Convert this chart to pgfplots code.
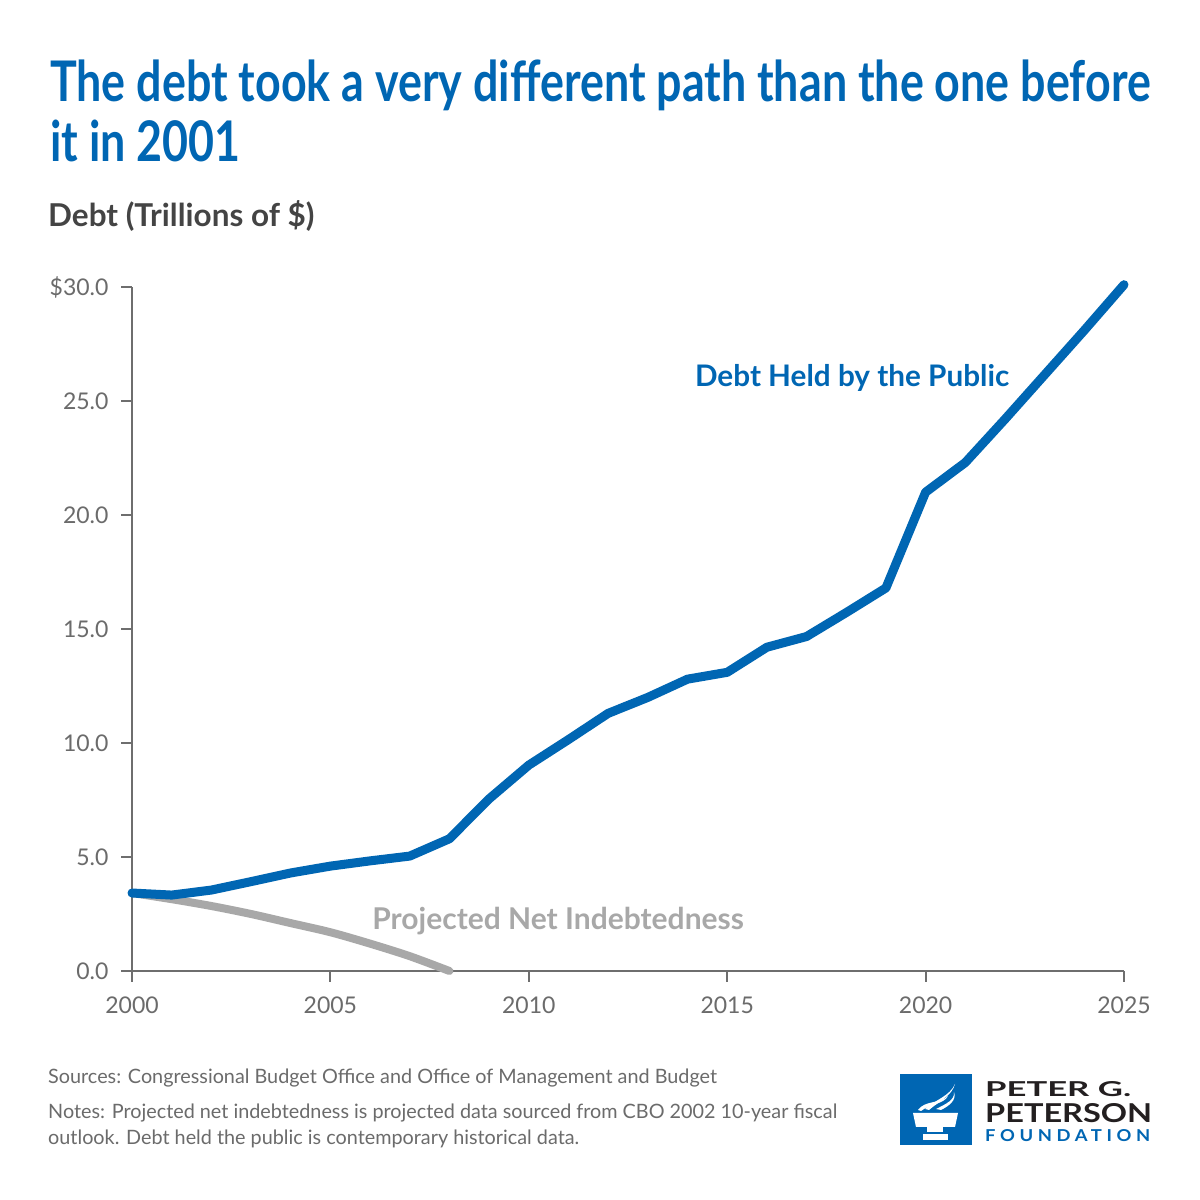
\documentclass[border=0pt]{standalone}
\usepackage{fontspec}
\usepackage{pgfplots}
\pgfplotsset{compat=1.18}
\setmainfont{Lato}
\newfontfamily\titlefont{Lato}[FakeStretch=0.80]
\newfontfamily\spacedfont{Lato}[LetterSpace=25]
\definecolor{dblue}{HTML}{0066B3}
\definecolor{lgray}{HTML}{A8A8A8}
\definecolor{axisgray}{HTML}{6E6E6E}
\definecolor{labelgray}{HTML}{6B6B6B}
\definecolor{subgray}{HTML}{444444}
\definecolor{logoblack}{HTML}{231F20}
\begin{document}
\begin{tikzpicture}[x=1pt,y=1pt]
\fill[white] (0,0) rectangle (1200,1200);
\useasboundingbox (0,0) rectangle (1200,1200);
% title
\node[anchor=base west,inner sep=0pt,text=dblue] at (50,1098) {\titlefont\bfseries\fontsize{56}{60}\selectfont The debt took a very different path than the one before};
\node[anchor=base west,inner sep=0pt,text=dblue] at (50,1038) {\titlefont\bfseries\fontsize{56}{60}\selectfont it in 2001};
\node[anchor=base west,inner sep=0pt,text=subgray] at (48,973) {\bfseries\fontsize{31.5}{34}\selectfont Debt (Trillions of \$)};
\begin{axis}[
 at={(132pt,229pt)}, anchor=south west,
 scale only axis, width=992pt, height=684pt,
 xmin=2000,xmax=2025,ymin=0,ymax=30,
 axis x line*=bottom, axis y line*=left,
 axis line style={draw=axisgray,line width=2pt,-},
 xtick={2000,2005,2010,2015,2020,2025},
 xticklabels={2000,2005,2010,2015,2020,2025},
 ytick={0,5,10,15,20,25,30},
 yticklabels={0.0,5.0,10.0,15.0,20.0,25.0,\$30.0},
 tick align=outside, major tick length=11pt,
 tick style={draw=axisgray,line width=2pt},
 ticklabel style={font=\fontsize{23}{27}\selectfont, text=labelgray},
 xticklabel style={yshift=-11pt},
 yticklabel style={xshift=-9pt},
 clip=false,
]
\addplot[color=lgray, line width=8pt, line cap=round, line join=round, smooth] coordinates {
(2000,3.42) (2001,3.15) (2002,2.85) (2003,2.5) (2004,2.1) (2005,1.7) (2006,1.2) (2007,0.65) (2008,0.0)
};
\addplot[color=dblue, line width=9pt, line cap=round, line join=round] coordinates {
(2000,3.42) (2001,3.33) (2002,3.55) (2003,3.92) (2004,4.3) (2005,4.6) (2006,4.83) (2007,5.04) (2008,5.8) (2009,7.55) (2010,9.03) (2011,10.15) (2012,11.3) (2013,12.0) (2014,12.8) (2015,13.1) (2016,14.2) (2017,14.67) (2018,15.72) (2019,16.8) (2020,21.0) (2021,22.3) (2022,24.2) (2023,26.15) (2024,28.1) (2025,30.1)
};
\node[text=dblue,font=\bfseries\fontsize{29.7}{33}\selectfont] at (axis cs:2018.15,26.0) {Debt Held by the Public};
\node[text=lgray,font=\bfseries\fontsize{30}{33}\selectfont] at (axis cs:2010.74,2.19) {Projected Net Indebtedness};
\end{axis}
% footnotes
\node[anchor=base west,inner sep=0pt,text=labelgray] at (48,116) {\fontsize{19.8}{22}\selectfont Sources: Congressional Budget Office and Office of Management and Budget};
\node[anchor=base west,inner sep=0pt,text=labelgray] at (48,81) {\fontsize{19.8}{22}\selectfont Notes: Projected net indebtedness is projected data sourced from CBO 2002 10-year fiscal};
\node[anchor=base west,inner sep=0pt,text=labelgray] at (48,55) {\fontsize{19.8}{22}\selectfont outlook. Debt held the public is contemporary historical data.};
% logo
\fill[dblue] (900,55) rectangle (972,126);
\fill[white] (913,87) -- (958,87) -- (955,73) -- (916,73) -- cycle;
\fill[white] (927,73) rectangle (943,68);
\fill[white] (923,66) rectangle (948,60);
\fill[white] (918,90) .. controls (925,100) and (940,96) .. (948,104) .. controls (944,96) and (930,96) .. (921,89) -- cycle;
\fill[white] (925,91) .. controls (935,100) and (950,104) .. (955,116) .. controls (952,104) and (938,98) .. (929,90) -- cycle;
\fill[white] (936,91) .. controls (946,96) and (955,100) .. (954,108) .. controls (957,100) and (949,94) .. (941,90) -- cycle;
\node[anchor=base west,inner sep=0pt,text=logoblack] at (985,103) {\resizebox{146pt}{15pt}{\bfseries PETER G.}};
\node[anchor=base west,inner sep=0pt,text=logoblack] at (985,77) {\resizebox{167pt}{19pt}{\bfseries PETERSON}};
\node[anchor=base west,inner sep=0pt,text=dblue] at (985,58) {\resizebox{165pt}{12pt}{\spacedfont\bfseries FOUNDATION}};
\end{tikzpicture}
\end{document}
